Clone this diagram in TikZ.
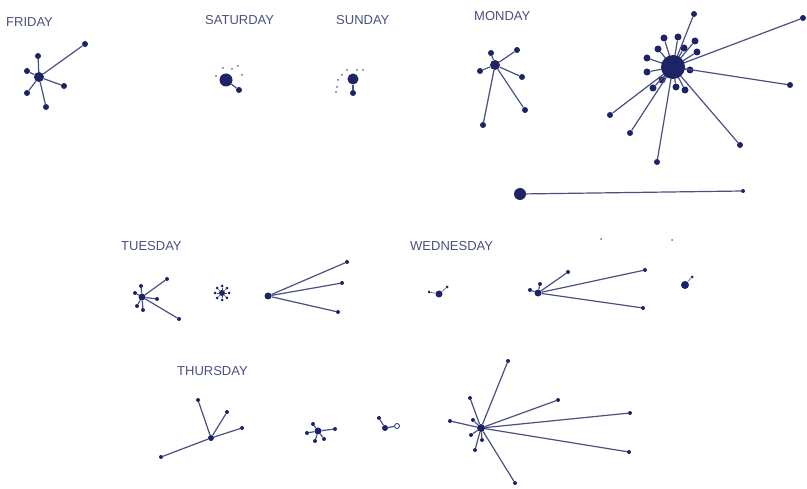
\documentclass[tikz,border=0pt]{standalone}
\usepackage{fontspec}
\setsansfont{Liberation Sans}
\usepackage{xcolor}
\usepackage{tikz}
\usetikzlibrary{calc}
\definecolor{inkblue}{HTML}{1C2466}
\definecolor{inkline}{HTML}{4A5080}
\tikzset{
  hub/.style={circle,fill=inkblue,inner sep=0pt,minimum size=9pt},
  bighub/.style={hub,minimum size=24pt},
  leaf/.style={circle,fill=inkblue,inner sep=0pt,minimum size=5pt},
  speck/.style={circle,fill=inkblue!70,inner sep=0pt,minimum size=2pt},
  ring/.style={circle,draw=inkblue,thick,fill=white,inner sep=0pt,minimum size=5pt},
  edge/.style={draw=inkline,line width=1.2pt},
  day/.style={font=\sffamily\fontsize{13}{13}\selectfont,text=inkline,anchor=west,inner sep=0pt},
}

\begin{document}
\begin{tikzpicture}[x=1pt,y=-1pt]
  \useasboundingbox (0,0) rectangle (807,489);

  % labels
  \node[day] (lfri) at (6,22) {FRIDAY};
  \node[day] (lsat) at (205,20) {SATURDAY};
  \node[day] (lsun) at (336,20) {SUNDAY};
  \node[day] (lmon) at (474,16) {MONDAY};
  \node[day] (ltue) at (121,246) {TUESDAY};
  \node[day] (lwed) at (410,246) {WEDNESDAY};
  \node[day] (lthu) at (177,371) {THURSDAY};

  % friday
  \node[hub,minimum size=10pt] (fri) at (39,77) {};
  \foreach \n/\x/\y in {a/85/44, b/38/56, c/27/71, d/27/93, e/64/86, f/46/107} {
    \node[leaf,minimum size=6pt] (fri\n) at (\x,\y) {};
    \draw[edge] (fri) -- (fri\n);
  }

  % saturday
  \node[hub,minimum size=13pt] (sat) at (226,80) {};
  \node[leaf,minimum size=6pt] (sata) at (239,90) {};
  \draw[edge] (sat) -- (sata);
  \foreach \n/\x/\y in {b/216/76, c/223/68, d/232/69, e/238/66, f/242/75} {
    \node[speck] (sat\n) at (\x,\y) {};
  }

  % sunday
  \node[hub,minimum size=11pt] (sun) at (353,79) {};
  \node[leaf,minimum size=6pt] (suna) at (353,93) {};
  \draw[edge] (sun) -- (suna);
  \foreach \n/\x/\y in {b/338/80, c/337/87, d/336/92, e/347/70, f/357/70, g/363/70, h/342/75} {
    \node[speck] (sun\n) at (\x,\y) {};
  }

  % monday
  \node[hub,minimum size=10pt] (mon) at (495,65) {};
  \foreach \n/\x/\y in {a/491/53, b/517/50, c/480/71, d/522/77, e/525/110, f/483/125} {
    \node[leaf,minimum size=6pt] (mon\n) at (\x,\y) {};
    \draw[edge] (mon) -- (mon\n);
  }

  % monday, big cluster
  \coordinate (clus) at (673,67);
  \foreach \n/\x/\y in {a/694/14, b/803/18, c/790/85, d/740/145, e/657/162, f/630/133, g/610/115} {
    \node[leaf,minimum size=6pt] (big\n) at (\x,\y) {};
  }
  \foreach \n/\x/\y in {h/664/38, i/678/37, j/695/41, k/697/52, l/658/49, m/647/58, n/647/72, o/653/88, p/676/87, q/685/90, r/690/70, s/662/80, t/684/48} {
    \node[leaf,minimum size=7pt] (big\n) at (\x,\y) {};
  }
  \foreach \n in {a,...,t} {
    \draw[edge] (clus) -- (big\n);
  }
  \node[bighub] (big) at (clus) {};

  % monday, single long link
  \node[hub,minimum size=12pt] (one) at (520,194) {};
  \node[leaf,minimum size=4pt] (onea) at (743,191) {};
  \draw[edge] (one) -- (onea);

  % tuesday
  \node[hub,minimum size=7pt] (tuea) at (142,297) {};
  \foreach \n/\x/\y in {a/167/279, b/141/286, c/135/293, d/157/299, e/143/310, f/137/306, g/179/319} {
    \node[leaf,minimum size=4pt] (tuea\n) at (\x,\y) {};
    \draw[edge] (tuea) -- (tuea\n);
  }
  \node[hub,minimum size=6pt] (tueb) at (222,293) {};
  \foreach \a in {0,45,...,315} {
    \node[leaf,minimum size=3pt] (tueb\a) at ($(tueb)+(\a:7)$) {};
    \draw[edge,line width=.6pt] (tueb) -- (tueb\a);
  }
  \node[hub,minimum size=7pt] (tuec) at (268,296) {};
  \foreach \n/\x/\y in {a/347/262, b/342/283, c/338/312} {
    \node[leaf,minimum size=4pt] (tuec\n) at (\x,\y) {};
    \draw[edge] (tuec) -- (tuec\n);
  }

  % wednesday
  \node[hub,minimum size=7pt] (weda) at (439,294) {};
  \foreach \n/\x/\y in {a/429/292, b/447/287} {
    \node[leaf,minimum size=3pt] (weda\n) at (\x,\y) {};
    \draw[edge,line width=.6pt] (weda) -- (weda\n);
  }
  \node[hub,minimum size=7pt] (wedb) at (538,293) {};
  \foreach \n/\x/\y in {a/568/272, b/645/270, c/643/308, d/540/284, e/530/290} {
    \node[leaf,minimum size=4pt] (wedb\n) at (\x,\y) {};
    \draw[edge] (wedb) -- (wedb\n);
  }
  \node[hub,minimum size=8pt] (wedc) at (685,285) {};
  \node[leaf,minimum size=3pt] (wedca) at (692,277) {};
  \draw[edge,line width=.6pt] (wedc) -- (wedca);
  \node[speck] (weds1) at (601,239) {};
  \node[speck] (weds2) at (672,240) {};

  % thursday
  \node[hub,minimum size=6pt] (thua) at (211,438) {};
  \foreach \n/\x/\y in {a/198/400, b/227/412, c/242/428, d/161/457} {
    \node[leaf,minimum size=4pt] (thua\n) at (\x,\y) {};
    \draw[edge] (thua) -- (thua\n);
  }
  \node[hub,minimum size=7pt] (thub) at (318,431) {};
  \foreach \n/\x/\y in {a/335/429, b/307/433, c/313/424, d/315/441, e/324/439} {
    \node[leaf,minimum size=4pt] (thub\n) at (\x,\y) {};
    \draw[edge] (thub) -- (thub\n);
  }
  \node[hub,minimum size=6pt] (thuc) at (385,428) {};
  \node[leaf,minimum size=4pt] (thuca) at (379,418) {};
  \node[ring] (thucb) at (397,426) {};
  \draw[edge] (thuc) -- (thuca);
  \draw[edge] (thuc) -- (thucb);
  \node[hub,minimum size=8pt] (thud) at (481,428) {};
  \foreach \n/\x/\y in {a/508/361, b/558/400, c/630/413, d/629/452, e/515/483, f/475/450, g/450/421, h/470/398, i/473/420, j/471/435, k/482/440} {
    \node[leaf,minimum size=4pt] (thud\n) at (\x,\y) {};
    \draw[edge] (thud) -- (thud\n);
  }
\end{tikzpicture}
\end{document}
